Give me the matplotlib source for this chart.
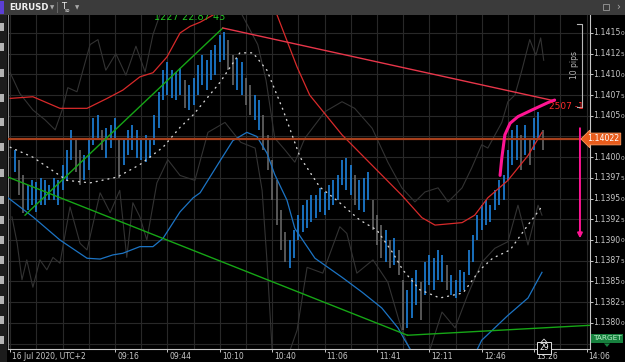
import numpy as np
import matplotlib
matplotlib.use("Agg")
import matplotlib.pyplot as plt
from matplotlib.transforms import blended_transform_factory
from matplotlib.patches import Rectangle, Polygon

# ---------------- data (prices expressed in pips above BASE) ----------------
BASE = 1.13800
PIP = 0.0001
CURRENT = 1.14022

# bar highs / lows, bars indexed 1..122
bar_hi = [20.9, 19.7, 17.8, 16.6, 17.2, 17.0, 17.5, 17.2, 16.6, 17.5,
          17.2, 19.1, 20.9, 23.3, 22.1, 20.9, 20.3, 22.1, 24.7, 25.1,
          23.3, 23.5, 23.9, 24.7, 22.1, 22.1, 23.3, 23.9, 23.3, 22.1,
          22.7, 22.1, 25.1, 27.9, 30.5, 31.5, 30.5, 30.3, 30.8, 29.3,
          28.7, 29.6, 31.1, 32.3, 31.7, 33.0, 33.6, 34.8, 35.1, 34.2,
          32.3, 32.0, 31.5, 29.6, 28.7, 27.5, 26.9, 25.1, 22.7, 19.7,
          17.2, 13.6, 11.0, 10.0, 11.2, 13.0, 14.2, 14.8, 15.4, 15.4,
          16.3, 15.8, 16.6, 17.2, 17.8, 19.7, 19.9, 19.1, 17.8, 17.2,
          17.5, 18.2, 14.8, 13.0, 11.8, 11.2, 10.0, 10.2, 8.8, 5.2,
          4.0, 5.4, 6.4, 4.9, 7.3, 8.2, 7.8, 8.8, 8.2, 7.0,
          5.8, 5.2, 6.4, 6.1, 8.8, 10.6, 13.0, 14.2, 14.8, 14.2,
          16.0, 17.2, 17.8, 20.9, 23.3, 23.9, 22.7, 23.9, 22.1, 24.7,
          25.5, 23.3]
bar_lo = [18.2, 15.4, 13.3, 13.6, 14.2, 13.4, 14.2, 14.2, 14.8, 14.8,
          14.2, 16.0, 17.2, 19.7, 18.2, 16.6, 17.2, 18.5, 21.5, 22.1,
          20.9, 19.9, 21.1, 22.1, 17.5, 19.1, 20.3, 20.9, 19.9, 19.7,
          19.4, 19.9, 21.5, 23.5, 26.9, 27.5, 27.2, 26.9, 27.5, 25.9,
          25.7, 26.3, 27.5, 28.7, 28.1, 29.3, 29.9, 31.5, 31.7, 30.5,
          28.7, 28.1, 27.5, 26.3, 25.1, 24.5, 23.3, 20.9, 18.5, 14.8,
          11.8, 8.8, 7.3, 6.6, 7.8, 10.0, 11.0, 11.4, 12.2, 12.7,
          13.4, 13.0, 13.6, 14.2, 14.8, 16.6, 16.0, 15.4, 14.2, 13.6,
          13.4, 14.8, 11.2, 9.4, 7.8, 7.3, 6.6, 7.0, 5.8, -0.9,
          -0.6, 0.6, 2.1, 0.3, 3.4, 4.6, 4.0, 5.2, 4.9, 4.0,
          3.4, 3.0, 3.7, 4.0, 5.8, 7.3, 10.0, 11.2, 11.8, 12.2,
          13.6, 14.2, 14.8, 17.2, 19.1, 19.7, 18.5, 20.3, 19.1, 20.9,
          22.1, 20.9]

# upper / lower grey noise lines (x in bar index units)
ug_x = [0, 2.2, 5.2, 8.0, 10.3, 11.9, 13.2, 15.3, 18.3, 20.1, 21.9, 24.2, 26.5,
        28.8, 30.9, 32.7, 34.5, 37.7, 48.0, 52.8, 54.9, 56.7, 58.6, 60.6, 62.9,
        65.2, 67.5, 72.1, 76.0, 78.9, 82.9, 86.5, 89.7, 92.7, 95.0, 98.0, 100.3,
        103.5, 105.7, 108.0, 109.4, 112.6, 114.0, 115.6, 117.2, 119.0, 120.4,
        121.5, 122.2]
ug_y = [30.2, 27.7, 25.7, 24.5, 23.3, 25.7, 28.4, 27.9, 33.6, 34.2, 30.5, 32.5,
        29.9, 33.4, 30.3, 34.8, 37.5, 39.0, 39.0, 37.5, 35.4, 33.6, 29.3, 22.3,
        20.9, 19.4, 22.3, 25.5, 26.7, 25.9, 23.5, 19.4, 16.3, 14.6, 15.8, 16.3,
        14.6, 16.3, 18.7, 21.5, 21.1, 24.2, 26.7, 27.5, 30.5, 34.2, 32.3, 34.4,
        31.7]
lg_x = [0.4, 1.6, 2.7, 3.8, 5.2, 6.8, 8.4, 9.8, 11.4, 13.7, 16.0, 17.6, 20.6,
        22.9, 25.1, 26.7, 28.1, 29.7, 31.3, 33.6, 36.1, 38.9, 42.3, 45.3, 49.2,
        52.8, 56.1, 57.7, 58.8, 60.0, 64.1, 65.7, 68.0, 71.6, 75.5, 77.1, 79.4,
        83.1, 86.5, 89.7, 91.6, 96.1, 98.9, 101.9, 104.8, 108.0, 111.0, 114.0,
        116.3, 118.6, 120.9, 121.8]
lg_y = [12.8, 9.6, 5.2, 7.6, 4.3, 7.6, 6.4, 7.9, 7.2, 14.0, 9.6, 8.8, 15.7, 13.3,
        16.0, 7.9, 14.5, 12.8, 10.0, 16.9, 19.7, 17.8, 17.2, 23.0, 24.2, 21.8,
        21.1, 16.0, 7.6, -3.3, -3.3, -0.9, 6.7, 6.0, 11.6, 10.8, 6.0, 7.6, 4.9,
        -0.9, -3.3, -3.3, 1.3, -0.6, 3.4, 7.3, 9.0, 9.8, 14.2, 9.4, 14.2, 13.0]

# red upper band
rb_x = [0, 5.2, 11.4, 17.6, 22.2, 25.8, 29.7, 32.7, 35.9, 38.9, 41.2, 43.5, 46.9,
        52.6, 57.7, 61.1, 65.7, 68.6, 76.0, 83.5, 89.7, 94.3, 97.3, 103.5, 106.4,
        109.4, 114.0, 118.6, 121.8]
rb_y = [27.1, 27.3, 25.9, 25.9, 27.1, 28.1, 29.7, 30.2, 32.1, 35.0, 35.8, 36.3,
        37.3, 38.3, 38.3, 37.2, 30.9, 27.5, 22.7, 18.7, 15.4, 12.7, 11.8, 12.1,
        13.0, 15.1, 17.2, 20.2, 23.0]

# blue lower band
bb_x = [-0.5, 5.2, 11.4, 17.6, 20.6, 23.5, 25.8, 29.7, 32.7, 35.0, 38.9, 41.9,
        43.5, 48.0, 51.0, 54.2, 56.5, 58.8, 60.6, 63.4, 65.2, 69.8, 76.0, 80.6,
        85.1, 88.8, 90.4, 92.0, np.nan, 106.7, 108.0, 114.0, 118.6, 121.8]
bb_y = [15.1, 12.8, 10.0, 7.8, 7.7, 8.2, 8.4, 9.2, 9.2, 10.2, 13.4, 15.1, 15.7,
        19.5, 22.0, 23.0, 22.5, 20.5, 17.9, 14.8, 11.4, 7.8, 5.5, 3.7, 1.8, -0.6,
        -2.1, -3.5, np.nan, -3.5, -2.1, 0.9, 3.0, 6.1]

# white dotted average
dl_x = [0, 5.2, 13.0, 18.3, 24.5, 29.7, 35.0, 38.9, 41.9, 48.0, 52.6, 55.6, 58.8,
        62.5, 66.4, 70.9, 74.8, 80.1, 84.0, 87.7, 89.9, 93.8, 98.4, 103.7, 107.6,
        110.5, 114.5, 118.3, 122.0]
dl_y = [21.2, 20.0, 17.2, 16.9, 17.6, 19.1, 21.2, 23.6, 25.1, 29.0, 32.6, 32.6,
        30.5, 25.7, 20.0, 16.4, 14.8, 12.4, 11.2, 8.4, 6.4, 4.0, 3.0, 3.6, 6.4,
        7.8, 8.8, 11.6, 14.2]

# drawn objects
green_down_x, green_down_y = [-0.5, 91.0], [17.6, -1.5]
green_flat_x, green_flat_y = [91.0, 132.8], [-1.5, -0.3]
green_up_x, green_up_y = [3.4, 48.7], [13.0, 35.6]
red_ray_x, red_ray_y = [48.7, 124.7], [35.6, 26.8]
pink_x = [112.2, 112.6, 113.3, 114.5, 116.3, 119.5, 123.2, 124.7]
pink_y = [17.8, 19.9, 22.7, 24.1, 24.9, 25.7, 26.6, 26.9]
arrow_x, arrow_from, arrow_to = 130.5, 23.5, 10.2
bracket_x, bracket_top, bracket_bot = 130.9, 36.1, 26.1

time_ticks = [0, 24, 36, 48, 60, 72, 84, 96, 108, 120, 132]
time_labels = ["16 Jul 2020, UTC+2", "09:16", "09:44", "10:10", "10:40", "11:06",
               "11:41", "12:11", "12:46", "13:26", "14:06"]
price_ticks_pips = np.arange(0, 35.0 + 0.01, 2.5)

def P(a):
    return BASE + np.asarray(a, dtype=float) * PIP

# ---------------- figure ----------------
W, H = 625, 362
FONT = "DejaVu Sans"
plt.rcParams["font.family"] = [FONT]
fig = plt.figure(figsize=(W / 100, H / 100), dpi=100, facecolor="black")
ax = fig.add_axes([8 / W, 1 - 349 / H, (590 - 8) / W, (349 - 15) / H])
ax.set_facecolor("black")
ax.set_xlim(-0.5, 132.8)
ax.set_ylim(P(-3.16), P(37.17))

# grid
for gx in np.arange(0, 133, 6):
    ax.axvline(gx, color="#282828", lw=0.8, zorder=0)
for v in np.arange(-2.5, 40, 2.5):
    ax.axhline(P(v), color="#282828", lw=0.8, zorder=0)

# grey noise lines
ax.plot(ug_x, P(ug_y), color="#333333", lw=0.8, zorder=1)
ax.plot(lg_x, P(lg_y), color="#333333", lw=0.8, zorder=1)

# bars
hi = np.array(bar_hi)
lo = np.array(bar_lo)
mid = (hi + lo) / 2
idx = np.arange(1, len(hi) + 1)
for k in range(len(hi)):
    up = k == 0 or mid[k] >= mid[k - 1] - 0.9
    col = "#1e82dc" if up else "#666666"
    ax.plot([idx[k], idx[k]], [P(lo[k]), P(hi[k])], color=col, lw=1.2,
            solid_capstyle="butt", zorder=3)

# bands
ax.plot(rb_x, P(rb_y), color="#d82a2a", lw=0.9, zorder=4)
ax.plot(bb_x, P(bb_y), color="#1c74c4", lw=0.9, zorder=4)
ax.plot(dl_x, P(dl_y), color="#d0d0d0", lw=1.0, ls=(0, (0.7, 3.6)),
        dash_capstyle="round", zorder=4)

# current price line
ax.axhline(CURRENT, color="#a8401c", lw=1.6, zorder=5)

# trend lines
ax.plot(green_down_x, P(green_down_y), color="#16a616", lw=1.0, zorder=6)
ax.plot(green_flat_x, P(green_flat_y), color="#16a616", lw=1.0, zorder=6)
ax.plot(green_up_x, P(green_up_y), color="#16a616", lw=1.0, zorder=6)
ax.plot(red_ray_x, P(red_ray_y), color="#e8364a", lw=1.0, zorder=6)
ax.plot(pink_x, P(pink_y), color="#ff1493", lw=2.2, zorder=7,
        solid_capstyle="round")
ax.annotate("", xy=(arrow_x, P(arrow_to)), xytext=(arrow_x, P(arrow_from)),
            arrowprops=dict(arrowstyle="-|>", color="#ff1493", lw=1.4,
                            mutation_scale=7, shrinkA=0, shrinkB=0), zorder=7)

# 10 pips bracket
bc = "#b8b8b8"
ax.plot([bracket_x - 1.0, bracket_x, bracket_x, bracket_x - 1.0],
        P([bracket_top, bracket_top, bracket_bot, bracket_bot]), color=bc, lw=0.8,
        zorder=7)
ax.text(bracket_x - 1.6, P((bracket_top + bracket_bot) / 2), "10 pips", rotation=90,
        color=bc, fontsize=5.5, ha="center", va="center", zorder=7)

# texts on chart
ax.text(123.4, P(26.1), "2507 -1", color="#ff2a2a", fontsize=6.5, ha="left",
        va="center", zorder=8, clip_on=False)
ax.text(33.0, P(36.95), "1227 22.87 43", color="#22c022", fontsize=7, ha="left",
        va="center", zorder=8, clip_on=False)

# spines
ax.spines["top"].set_visible(False)
ax.spines["left"].set_color("#8a8a8a")
ax.spines["right"].set_color("#c8c8c8")
ax.spines["bottom"].set_color("#c8c8c8")
for s in ["left", "right", "bottom"]:
    ax.spines[s].set_linewidth(0.8)

# x ticks
ax.set_xticks(time_ticks)
ax.set_xticklabels([])
ax.tick_params(axis="x", direction="out", length=2.5, width=0.7, color="#c8c8c8")
for t, lab in zip(time_ticks, time_labels):
    ax.annotate(lab, xy=(t, 0), xycoords=("data", "axes fraction"),
                xytext=(1.5, -7.5 * 0.72), textcoords="offset points",
                ha="left", va="center", fontsize=5.5, color="#c8c8c8",
                annotation_clip=False)

# y ticks on right
ax.yaxis.tick_right()
ax.set_yticks(P(price_ticks_pips))
ax.set_yticklabels([])
ax.tick_params(axis="y", direction="out", length=2.5, width=0.7, color="#c8c8c8")
trans = blended_transform_factory(ax.transAxes, ax.transData)
for v in price_ticks_pips:
    price = BASE + v * PIP
    if abs(price - CURRENT) < 0.00012:
        continue
    s = f"{price:.5f}"
    t1 = ax.annotate(s[:-1], xy=(1, price), xycoords=trans, xytext=(3 * 0.72, 0),
                     textcoords="offset points", ha="left", va="center",
                     fontsize=5.6, color="#c8c8c8", annotation_clip=False)
    ax.annotate(s[-1], xy=(1, 0.12), xycoords=t1, xytext=(0.3, 0),
                textcoords="offset points", ha="left", va="bottom",
                fontsize=4.2, color="#c8c8c8", annotation_clip=False)

# current price label
ax.annotate(f"{CURRENT:.5f}", xy=(1, CURRENT), xycoords=trans,
            xytext=(-2.0, 0), textcoords="offset points", ha="left", va="center",
            fontsize=5.6, color="white", zorder=9, annotation_clip=False,
            bbox=dict(boxstyle="larrow,pad=0.18", fc="#e85c1c", ec="#ff9a60", lw=0.6))

# ---------------- chrome ----------------
fig.add_artist(Rectangle((0, 1 - 15 / H), 1, 15 / H, transform=fig.transFigure,
                         fc="#3b3b3b", ec="none", zorder=20))
fig.add_artist(Rectangle((0, 1 - 14 / H), 4 / W, 13 / H, transform=fig.transFigure,
                         fc="#5b3fd6", ec="none", zorder=21))
fig.text(9 / W, 1 - 7.5 / H, "EURUSD", color="#f0f0f0", fontsize=6.2,
         fontweight="bold", ha="left", va="center", zorder=22)
fig.text(52 / W, 1 - 7.5 / H, "▼", color="#aaaaaa", fontsize=4, ha="center",
         va="center", zorder=22)
fig.add_artist(Rectangle((57 / W, 1 - 13 / H), 0.8 / W, 11 / H,
                         transform=fig.transFigure, fc="#666666", ec="none",
                         zorder=21))
fig.text(61 / W, 1 - 6.5 / H, "T", color="#f0f0f0", fontsize=6, ha="left",
         va="center", zorder=22)
fig.text(65 / W, 1 - 10.5 / H, "so", color="#f0f0f0", fontsize=3.5, ha="left",
         va="center", zorder=22)
fig.text(77 / W, 1 - 7.5 / H, "▼", color="#aaaaaa", fontsize=4, ha="center",
         va="center", zorder=22)
fig.add_artist(Rectangle((603 / W, 1 - 10 / H), 6 / W, 6 / H,
                         transform=fig.transFigure, fc="none", ec="#9a9a9a",
                         lw=0.6, zorder=22))
fig.text(618 / W, 1 - 7 / H, "›", color="#aaaaaa", fontsize=7, ha="center",
         va="center", zorder=22)

# left toolbar strip
fig.add_artist(Rectangle((0, 0), 7 / W, (H - 15) / H, transform=fig.transFigure,
                         fc="#1c1c1c", ec="none", zorder=20))
for yy in [27, 47, 73, 98, 122, 147, 173, 200, 220, 240, 260, 280, 300, 320, 340]:
    fig.add_artist(Rectangle((0, 1 - (yy + 4) / H), 4 / W, 8 / H,
                             transform=fig.transFigure, fc="#b4b4b4", ec="none",
                             zorder=21))

# bottom badges
fig.text(544 / W, 1 - 348 / H, "29", color="white", fontsize=5.5, ha="center",
         va="center", zorder=22,
         bbox=dict(boxstyle="square,pad=0.25", fc="black", ec="#e0e0e0", lw=0.7))
fig.add_artist(Polygon([[541 / W, 1 - 342.5 / H], [547 / W, 1 - 342.5 / H],
                        [544 / W, 1 - 339 / H]], closed=True,
                       transform=fig.transFigure, fc="black", ec="#e0e0e0",
                       lw=0.6, zorder=22))
fig.text(607 / W, 1 - 338.5 / H, "TARGET", color="#b8f0c8", fontsize=5.3,
         ha="center", va="center", zorder=22,
         bbox=dict(boxstyle="square,pad=0.2", fc="#17803e", ec="none"))
fig.add_artist(Polygon([[604 / W, 1 - 343.5 / H], [610 / W, 1 - 343.5 / H],
                        [607 / W, 1 - 347 / H]], closed=True,
                       transform=fig.transFigure, fc="#17803e", ec="none",
                       zorder=22))

fig.savefig("out.png", dpi=100, facecolor="black")
